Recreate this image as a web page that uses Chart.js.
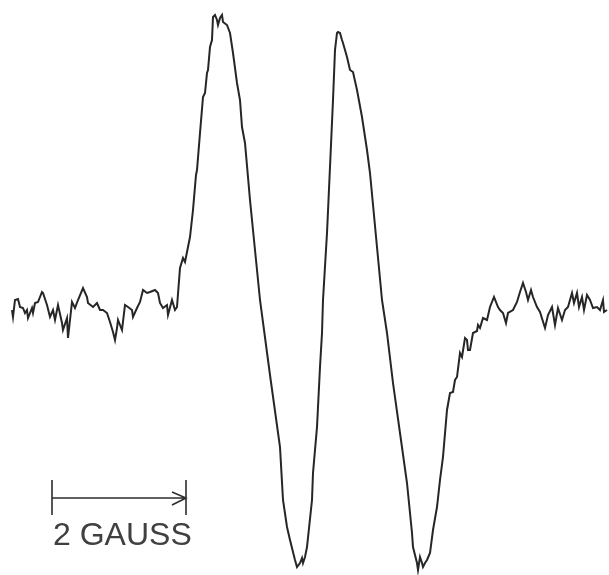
<!DOCTYPE html>
<html>
<head>
<meta charset="utf-8">
<script src="https://cdn.jsdelivr.net/npm/chart.js@4.4.0/dist/chart.umd.min.js"></script>
<style>
  html, body { margin: 0; padding: 0; background: #ffffff; }
  #wrap { width: 609px; height: 575px; }
</style>
</head>
<body>
<div id="wrap"><canvas id="c" width="609" height="575"></canvas></div>
<script>
// Magnetic field (arbitrary units; 134 units = 2 gauss)
const fieldX = [
  12,13,15,18,20,23,25,27,28,32,33,35,38,42,43,47,50,53,55,58,62,63,67,68,72,75,78,83,87,88,
  93,97,100,103,107,110,113,115,117,118,122,125,128,132,133,137,140,143,147,150,155,158,160,163,167,168,172,175,177,
  180,183,185,187,190,193,196,197,200,203,205,207,208,210,212,213,215,217,218,220,222,223,227,230,233,237,240,242,245,250,255,260,270,
  280,283,287,290,295,297,300,302,303,305,307,312,313,317,320,322,
  323,327,330,333,335,337,338,340,342,343,347,350,353,357,362,367,370,
  382,387,393,400,407,410,412,413,417,418,420,422,423,425,427,430,433,437,440,443,447,
  450,453,455,457,460,462,465,467,468,470,473,477,478,480,483,487,490,494,498,500,503,506,508,513,517,
  520,523,526,528,531,533,537,540,545,548,552,555,558,562,565,568,572,574,577,579,582,584,587,590,593,597,600,603,604,607
];
// Derivative signal amplitude (arbitrary units)
const signal = [
  -5,-12,5,6,-2,-3,-8,-5,-13,-3,-8,2,3,13,12,0,-12,-5,-15,0,-18,-25,-13,-33,3,-3,5,17,8,2,
  -2,2,-5,-5,-8,-17,-27,-35,-23,-15,-25,0,-2,-5,-12,-3,3,15,12,13,15,12,2,-3,0,-10,5,-5,-2,
  37,47,43,53,68,95,130,135,172,208,212,232,235,258,265,288,290,285,280,287,290,283,280,272,252,222,205,178,162,105,55,5,-70,
  -142,-195,-222,-235,-255,-262,-258,-253,-258,-252,-242,-195,-168,-122,-62,-28,
  5,72,138,205,255,272,273,272,265,262,248,235,233,215,188,155,132,
  5,-28,-78,-128,-178,-208,-228,-242,-258,-265,-252,-258,-262,-258,-255,-248,-225,-202,-175,-152,-105,
  -88,-87,-75,-72,-48,-52,-33,-35,-45,-45,-28,-26,-20,-23,-13,-15,-2,8,-2,-5,-8,-18,-8,-5,3,
  13,22,13,5,15,8,-2,-7,-23,-10,-2,-20,-3,-15,-5,-2,12,2,12,-2,8,-5,10,5,-3,-2,-5,5,-7,-5
];
// Scale bar: 2 gauss
const scaleBarStart = 52;      // field units
const scaleBarLength = 134;    // field units = 2 gauss
const scaleBarLevel = -193;    // signal units
const scaleBarLabel = '2 GAUSS';

const points = fieldX.map((x, i) => ({ x: x, y: signal[i] }));

const scaleBarPlugin = {
  id: 'scaleBar',
  afterDatasetsDraw(chart) {
    const ctx = chart.ctx;
    const xs = chart.scales.x, ys = chart.scales.y;
    const x0 = xs.getPixelForValue(scaleBarStart);
    const x1 = xs.getPixelForValue(scaleBarStart + scaleBarLength);
    const y = ys.getPixelForValue(scaleBarLevel);
    ctx.save();
    ctx.strokeStyle = '#2e2e2e';
    ctx.lineWidth = 1.6;
    ctx.lineCap = 'butt';
    ctx.beginPath();
    ctx.moveTo(x0, y); ctx.lineTo(x1, y);
    ctx.moveTo(x0, y - 18); ctx.lineTo(x0, y + 17);
    ctx.moveTo(x1, y - 18); ctx.lineTo(x1, y + 17);
    ctx.moveTo(x1 - 14, y - 6); ctx.lineTo(x1, y); ctx.lineTo(x1 - 14, y + 7);
    ctx.stroke();
    ctx.fillStyle = '#404040';
    ctx.font = '32px "Liberation Sans", Arial, sans-serif';
    ctx.textBaseline = 'alphabetic';
    ctx.textAlign = 'left';
    ctx.fillText(scaleBarLabel, x0 + 1, y + 47);
    ctx.restore();
  }
};

new Chart(document.getElementById('c'), {
  type: 'line',
  data: {
    datasets: [{
      data: points,
      borderColor: '#262626',
      borderWidth: 2,
      pointRadius: 0,
      tension: 0,
      fill: false
    }]
  },
  options: {
    responsive: false,
    animation: false,
    layout: { padding: 0 },
    plugins: { legend: { display: false }, tooltip: { enabled: false } },
    scales: {
      x: { type: 'linear', min: 0, max: 609, display: false },
      y: { type: 'linear', min: -270, max: 305, display: false }
    }
  },
  plugins: [scaleBarPlugin]
});
</script>
</body>
</html>
